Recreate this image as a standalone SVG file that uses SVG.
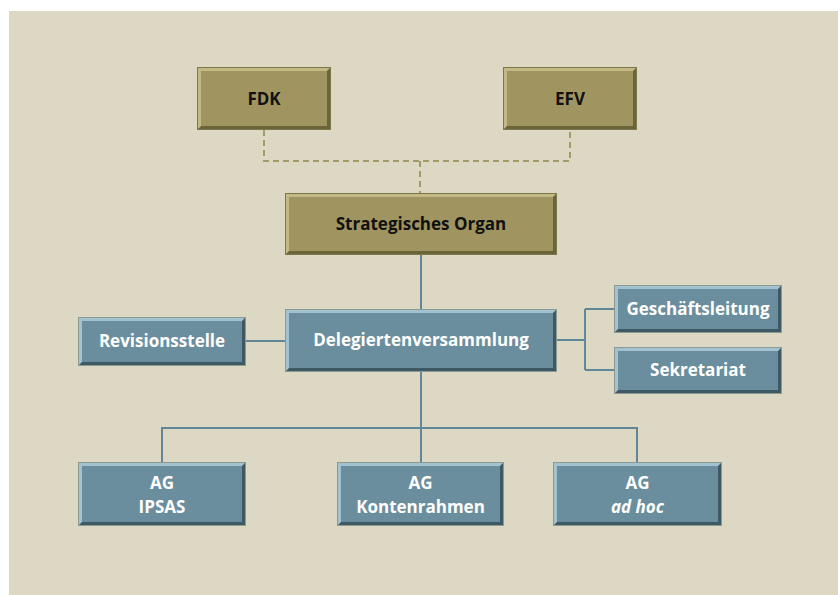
<svg xmlns="http://www.w3.org/2000/svg" width="838" height="595" viewBox="0 0 838 595">
<style>
text{font-family:"Open Sans","Noto Sans","Liberation Sans",sans-serif;font-weight:bold;font-size:17px;text-anchor:middle}
.bt{fill:#ffffff}
.ot{fill:#111111}
.bd{fill:#3e5964}
.bl{fill:#a3c2d0}
.bm{fill:#6a8e9e}
.od{fill:#6b6438}
.ol{fill:#c2b985}
.om{fill:#a09560}
.bo{fill:none;stroke:#8c9a92;stroke-width:1}
.oo{fill:none;stroke:#7d774c;stroke-width:1}
.c{fill:none;stroke:#5f8798;stroke-width:2}
.d{fill:none;stroke:#a39b67;stroke-width:2;stroke-dasharray:6 4}
</style>
<rect x="9" y="11" width="829" height="584" fill="#ddd8c3"/>
<g id="connectors">
<path class="d" d="M264 130V161H570V130"/>
<path class="d" d="M420 161V193"/>
<path class="c" d="M421 255V309"/>
<path class="c" d="M421 372V462"/>
<path class="c" d="M162 462V428H637V462"/>
<path class="c" d="M246 341H285"/>
<path class="c" d="M557 340H585M585 309V370M585 309H614M585 370H614"/>
</g>
<g id="fdk">
<rect class="od" x="197" y="67" width="134" height="63"/>
<polygon class="ol" points="197,67 331,67 327,71 201,71 201,126 197,130"/>
<rect class="om" x="201" y="71" width="126" height="55"/>
<rect class="oo" x="197.5" y="67.5" width="133" height="62"/>
<text class="ot" x="264" y="105">FDK</text>
</g>
<g id="efv">
<rect class="od" x="503" y="67" width="134" height="63"/>
<polygon class="ol" points="503,67 637,67 633,71 507,71 507,126 503,130"/>
<rect class="om" x="507" y="71" width="126" height="55"/>
<rect class="oo" x="503.5" y="67.5" width="133" height="62"/>
<text class="ot" x="570" y="105">EFV</text>
</g>
<g id="strategisches-organ">
<rect class="od" x="285" y="193" width="272" height="62"/>
<polygon class="ol" points="285,193 557,193 553,197 289,197 289,251 285,255"/>
<rect class="om" x="289" y="197" width="264" height="54"/>
<rect class="oo" x="285.5" y="193.5" width="271" height="61"/>
<text class="ot" x="421" y="230">Strategisches Organ</text>
</g>
<g id="revisionsstelle">
<rect class="bd" x="78" y="317" width="168" height="49"/>
<polygon class="bl" points="78,317 246,317 242,321 82,321 82,362 78,366"/>
<rect class="bm" x="82" y="321" width="160" height="41"/>
<rect class="bo" x="78.5" y="317.5" width="167" height="48"/>
<text class="bt" x="162" y="347">Revisionsstelle</text>
</g>
<g id="delegiertenversammlung">
<rect class="bd" x="285" y="309" width="272" height="63"/>
<polygon class="bl" points="285,309 557,309 553,313 289,313 289,368 285,372"/>
<rect class="bm" x="289" y="313" width="264" height="55"/>
<rect class="bo" x="285.5" y="309.5" width="271" height="62"/>
<text class="bt" x="421" y="346">Delegiertenversammlung</text>
</g>
<g id="geschaeftsleitung">
<rect class="bd" x="614" y="285" width="168" height="48"/>
<polygon class="bl" points="614,285 782,285 778,289 618,289 618,329 614,333"/>
<rect class="bm" x="618" y="289" width="160" height="40"/>
<rect class="bo" x="614.5" y="285.5" width="167" height="47"/>
<text class="bt" x="698" y="315">Geschäftsleitung</text>
</g>
<g id="sekretariat">
<rect class="bd" x="614" y="347" width="168" height="47"/>
<polygon class="bl" points="614,347 782,347 778,351 618,351 618,390 614,394"/>
<rect class="bm" x="618" y="351" width="160" height="39"/>
<rect class="bo" x="614.5" y="347.5" width="167" height="46"/>
<text class="bt" x="698" y="376">Sekretariat</text>
</g>
<g id="ag-ipsas">
<rect class="bd" x="78" y="462" width="168" height="64"/>
<polygon class="bl" points="78,462 246,462 242,466 82,466 82,522 78,526"/>
<rect class="bm" x="82" y="466" width="160" height="56"/>
<rect class="bo" x="78.5" y="462.5" width="167" height="63"/>
<text class="bt" x="162" y="489">AG</text>
<text class="bt" x="162" y="513">IPSAS</text>
</g>
<g id="ag-kontenrahmen">
<rect class="bd" x="337" y="462" width="167" height="64"/>
<polygon class="bl" points="337,462 504,462 500,466 341,466 341,522 337,526"/>
<rect class="bm" x="341" y="466" width="159" height="56"/>
<rect class="bo" x="337.5" y="462.5" width="166" height="63"/>
<text class="bt" x="420.5" y="489">AG</text>
<text class="bt" x="420.5" y="513">Kontenrahmen</text>
</g>
<g id="ag-ad-hoc">
<rect class="bd" x="553" y="462" width="169" height="64"/>
<polygon class="bl" points="553,462 722,462 718,466 557,466 557,522 553,526"/>
<rect class="bm" x="557" y="466" width="161" height="56"/>
<rect class="bo" x="553.5" y="462.5" width="168" height="63"/>
<text class="bt" x="637.5" y="489">AG</text>
<text class="bt" x="637.5" y="513" font-style="italic">ad hoc</text>
</g>
</svg>
